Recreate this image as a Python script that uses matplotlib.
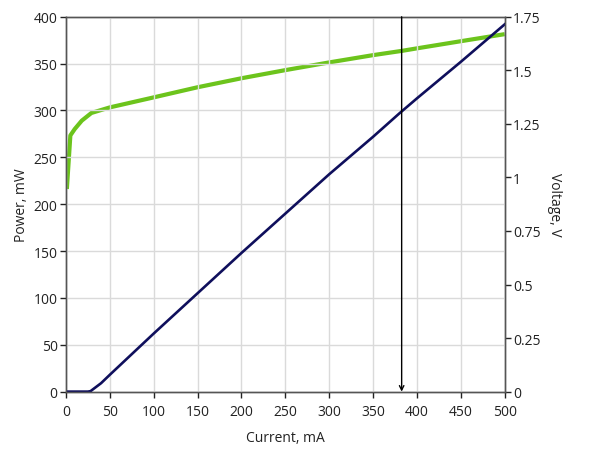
import matplotlib
matplotlib.use("Agg")
import matplotlib.pyplot as plt

plt.rcParams['font.family'] = ['Open Sans', 'DejaVu Sans']

# power curve (mW) vs current (mA)
corrente = [0, 25, 28, 40, 50, 75, 100, 150, 200, 250, 300, 350, 380, 400, 450, 500]
potencia = [0, 0, 0.5, 9, 18, 40, 62, 105, 148, 190, 232, 272, 297, 313, 352, 392]

# voltage curve (V) vs current (mA)
correnteV = [1, 5, 10, 18, 29, 50, 96, 150, 200, 250, 300, 350, 383, 402, 450, 500]
tensao = [0.946, 1.196, 1.226, 1.265, 1.301, 1.327, 1.370, 1.421, 1.463,
          1.501, 1.537, 1.571, 1.591, 1.604, 1.636, 1.669]

marcador = 382.5

xticks = [0, 50, 100, 150, 200, 250, 300, 350, 400, 450, 500]
yticks = [0, 50, 100, 150, 200, 250, 300, 350, 400]
vticks = [0, 0.25, 0.5, 0.75, 1, 1.25, 1.5, 1.75]

fig = plt.figure(figsize=(5.89, 4.56), dpi=100)
ax = fig.add_axes([0.112, 0.139, 0.745, 0.822])
ax2 = ax.twinx()

ax.set_zorder(ax2.get_zorder() + 1)
ax.patch.set_visible(False)

ax2.plot(correnteV, tensao, color='#6cc41c', linewidth=3, solid_capstyle='butt')
ax.plot(corrente, potencia, color='#0f0f5c', linewidth=1.9)

ax.annotate('', xy=(marcador, 0), xytext=(marcador, 400),
            arrowprops=dict(arrowstyle='->', color='black', lw=1, shrinkA=0, shrinkB=0,
                            mutation_scale=8))

ax.set_xlim(0, 500)
ax.set_ylim(0, 400)
ax2.set_ylim(0, 1.75)
ax.set_xticks(xticks)
ax.set_yticks(yticks)
ax2.set_yticks(vticks)
ax2.set_yticklabels(['%g' % v for v in vticks])

ax.grid(True, color='#dadada', linewidth=1)
ax.set_axisbelow(True)

for a in (ax, ax2):
    for s in a.spines.values():
        s.set_color('#555555')
        s.set_linewidth(1)
    a.tick_params(colors='#222222', labelsize=10, length=4, width=1, pad=2)
ax.tick_params(axis='x', pad=5)

ax.set_xlabel('Current, mA', fontsize=10, color='#222222', labelpad=8)
ax.set_ylabel('Power, mW', fontsize=10, color='#222222', labelpad=3)
ax2.set_ylabel('Voltage, V', fontsize=10, color='#222222', rotation=270, labelpad=15)

fig.savefig('out.png', dpi=100)
